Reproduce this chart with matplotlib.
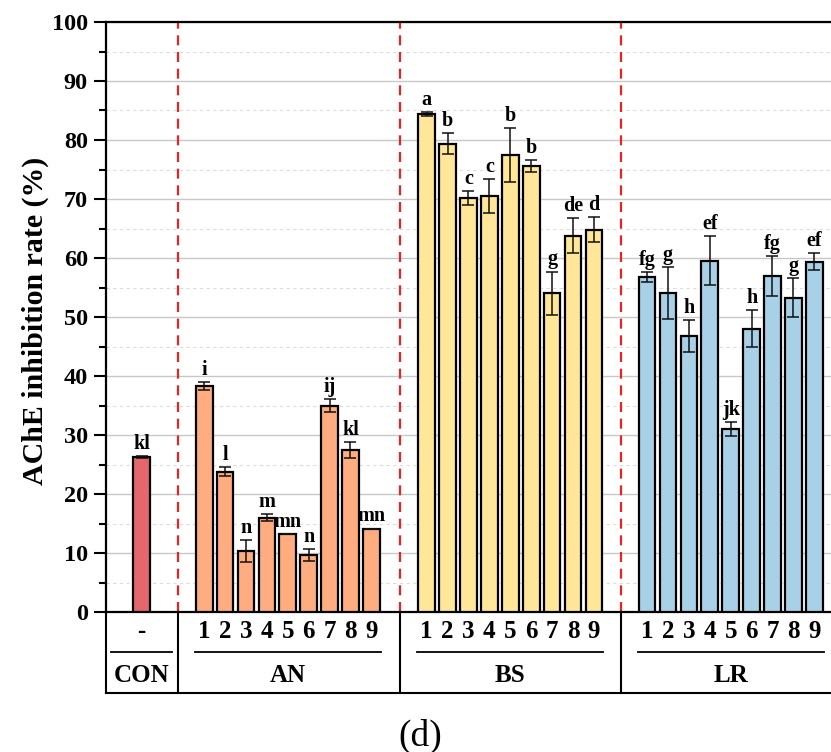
import numpy as np
import matplotlib
matplotlib.use('Agg')
from matplotlib import pyplot as plt
from matplotlib.ticker import MultipleLocator

plt.rcParams['font.family'] = ['Liberation Serif', 'DejaVu Serif']
plt.rcParams['font.weight'] = 'bold'

# values
con_val = [26.3]
con_err = [0.2]
con_let = ['kl']

an_val = [38.3, 23.8, 10.4, 16.0, 13.2, 9.7, 35.0, 27.5, 14.1]
an_err = [0.7, 0.7, 1.85, 0.55, 0.05, 1.0, 1.1, 1.35, 0.05]
an_let = ['i', 'l', 'n', 'm', 'mn', 'n', 'ij', 'kl', 'mn']

bs_val = [84.4, 79.4, 70.1, 70.5, 77.5, 75.6, 54.0, 63.8, 64.8]
bs_err = [0.3, 1.8, 1.2, 2.9, 4.6, 0.95, 3.7, 2.95, 2.15]
bs_let = ['a', 'b', 'c', 'c', 'b', 'b', 'g', 'de', 'd']

lr_val = [56.8, 54.1, 46.8, 59.5, 31.0, 48.0, 57.0, 53.3, 59.4]
lr_err = [0.85, 4.4, 2.7, 4.15, 1.25, 3.15, 3.4, 3.3, 1.5]
lr_let = ['fg', 'g', 'h', 'ef', 'jk', 'h', 'fg', 'g', 'ef']

group_names = ['CON', 'AN', 'BS', 'LR']
sample_ticks = ['1', '2', '3', '4', '5', '6', '7', '8', '9']

# layout
con_pos = np.array([0.0])
an_pos = 3.0 + np.arange(9)
bs_pos = 13.65 + np.arange(9)
lr_pos = 24.2 + np.arange(9)
dividers = [1.75, 12.37, 22.94]
xlim = (-1.70, 33.0)

colors = ['#e5676d', '#ffad80', '#ffe699', '#a8d0e7']

W, H = 831, 752
fig = plt.figure(figsize=(W / 100, H / 100), dpi=100)
ax = fig.add_axes([106 / W, 1 - 612 / H, 1 - 106 / W, 590 / H])
ax_t = fig.add_axes([106 / W, 1 - 693 / H, 1 - 106 / W, 81 / H])

series = [
    (con_pos, con_val, con_err, con_let),
    (an_pos, an_val, an_err, an_let),
    (bs_pos, bs_val, bs_err, bs_let),
    (lr_pos, lr_val, lr_err, lr_let),
]

for (pos, val, err, let), col in zip(series, colors):
    ax.bar(pos, val, width=0.8, color=col, edgecolor='black', linewidth=1.6, zorder=3)
    ax.errorbar(pos, val, yerr=err, fmt='none', ecolor='#111111',
                elinewidth=1.1, capsize=4.5, capthick=1.1, zorder=4)
    for x, v, e, t in zip(pos, val, err, let):
        ax.annotate(t, (x, v + e), xytext=(0, 1.5), textcoords='offset points',
                    ha='center', va='bottom', fontsize=14.5, fontweight='bold')

for d in dividers:
    ax.axvline(d, color='#e8241f', lw=1.6, ls=(0, (4.5, 3)), zorder=2)

ax.set_xlim(*xlim)
ax.set_ylim(0, 100)
ax.yaxis.set_major_locator(MultipleLocator(10))
ax.yaxis.set_minor_locator(MultipleLocator(5))
ax.set_axisbelow(True)
ax.yaxis.grid(True, which='major', color='#c8c8c8', lw=1.0)
ax.yaxis.grid(True, which='minor', color='#dcdcdc', lw=0.8, ls=(0, (3, 3)))
ax.tick_params(axis='y', which='major', direction='out', length=9, width=1.5,
               labelsize=17.5, pad=4)
ax.tick_params(axis='y', which='minor', direction='out', length=5, width=1.5)
ax.tick_params(axis='x', bottom=False, labelbottom=False)
for side in ['left', 'top', 'bottom']:
    ax.spines[side].set_linewidth(1.6)
ax.spines['right'].set_visible(False)

fig.text(35 / W, 1 - 321 / H, 'AChE inhibition rate (%)', rotation=90,
         ha='center', va='center', fontsize=21.5, fontweight='bold')

# table under the axis
ax_t.set_xlim(*xlim)
ax_t.set_ylim(0, 1)
ax_t.axis('off')
lw = 1.5
ax_t.plot([xlim[0], xlim[0]], [0, 1], color='black', lw=lw, clip_on=False)
ax_t.plot([xlim[0], xlim[1]], [0, 0], color='black', lw=lw, clip_on=False)
for d in dividers:
    ax_t.plot([d, d], [0, 1], color='black', lw=lw, clip_on=False)

y_num, y_line, y_grp = 0.765, 0.506, 0.21
fs_tab = 18
ax_t.text(con_pos[0], y_num, '-', ha='center', va='center', fontsize=fs_tab, fontweight='bold')
ax_t.plot([con_pos[0] - 1.48, con_pos[0] + 1.48], [y_line, y_line], color='black', lw=1.3)
ax_t.text(con_pos[0], y_grp, group_names[0], ha='center', va='center',
          fontsize=fs_tab, fontweight='bold')
for pos, name in zip([an_pos, bs_pos, lr_pos], group_names[1:]):
    for x, t in zip(pos, sample_ticks):
        ax_t.text(x, y_num, t, ha='center', va='center', fontsize=fs_tab, fontweight='bold')
    ax_t.plot([pos[0] - 0.45, pos[-1] + 0.45], [y_line, y_line], color='black', lw=1.3)
    ax_t.text(pos.mean(), y_grp, name, ha='center', va='center',
              fontsize=fs_tab, fontweight='bold')

fig.text(420 / W, 1 - 736 / H, '(d)', ha='center', va='center', fontsize=27,
         fontweight='normal')

fig.savefig('out.png', dpi=100)
